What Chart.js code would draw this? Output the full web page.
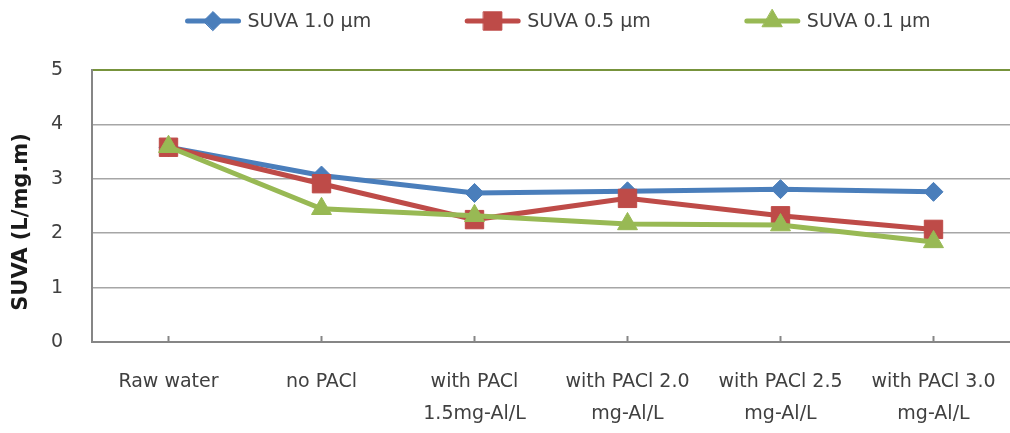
<!DOCTYPE html>
<html>
<head>
<meta charset="utf-8">
<script src="https://cdn.jsdelivr.net/npm/chart.js@4/dist/chart.umd.min.js"></script>
<style>
  html, body { margin: 0; padding: 0; background: #fff; overflow: hidden; }
  #wrap { width: 1010px; height: 433px; position: relative; }
  canvas { display: block; }
</style>
</head>
<body>
<div id="wrap"><canvas id="suvaChart"></canvas></div>
<script>
// Treatment steps along the x axis
const categories = [
  'Raw water',
  'no PACl',
  ['with PACl', '1.5mg-Al/L'],
  ['with PACl 2.0', 'mg-Al/L'],
  ['with PACl 2.5', 'mg-Al/L'],
  ['with PACl 3.0', 'mg-Al/L']
];

// SUVA (L/mg.m) after filtration through each pore size
const suva10 = [3.58, 3.06, 2.74, 2.77, 2.81, 2.76];
const suva05 = [3.58, 2.91, 2.25, 2.64, 2.32, 2.07];
const suva01 = [3.59, 2.45, 2.32, 2.17, 2.15, 1.84];

const yTicks = [0, 1, 2, 3, 4, 5];
const yTitle = 'SUVA (L/mg.m)';

const FONT = '"DejaVu Sans", sans-serif';
const TEXT = '#404040';
const GRID = '#a6a6a6';
const AXIS = '#868686';

const series = [
  { label: 'SUVA 1.0 µm', data: suva10, color: '#4a7ebb', style: 'rectRot', radius: 9.5, order: 2 },
  { label: 'SUVA 0.5 µm', data: suva05, color: '#be4b48', style: 'rect', radius: 13, order: 1 },
  { label: 'SUVA 0.1 µm', data: suva01, color: '#98b954', style: 'triangle', radius: 11.5, order: 0 }
];

// Legend with a short line sample and the marker on top of it
const lineLegend = {
  id: 'lineLegend',
  afterDraw(chart) {
    const ctx = chart.ctx;
    const y = 21;
    const sample = 55, gap = 7, space = 94;
    ctx.save();
    ctx.font = '19px ' + FONT;
    const widths = chart.data.datasets.map(ds => ctx.measureText(ds.label).width);
    const total = widths.reduce((s, w) => s + sample + gap + w, 0) + space * (widths.length - 1);
    let x = 558 - total / 2;
    chart.data.datasets.forEach((ds, i) => {
      ctx.strokeStyle = ds.borderColor;
      ctx.lineWidth = 5;
      ctx.lineCap = 'round';
      ctx.beginPath();
      ctx.moveTo(x + 2, y);
      ctx.lineTo(x + sample - 2, y);
      ctx.stroke();
      ctx.fillStyle = ds.pointBackgroundColor;
      ctx.lineWidth = 1;
      Chart.helpers.drawPoint(ctx, {
        pointStyle: ds.pointStyle, radius: ds.pointRadius, borderWidth: 1, rotation: 0
      }, x + sample / 2, y);
      ctx.fillStyle = TEXT;
      ctx.textBaseline = 'middle';
      ctx.textAlign = 'left';
      ctx.fillText(ds.label, x + sample + gap, y + 1);
      x += sample + gap + widths[i] + space;
    });
    ctx.restore();
  }
};

// Vertical axis title, sitting a little below the middle of the plot
const axisTitle = {
  id: 'axisTitle',
  afterDraw(chart) {
    const ctx = chart.ctx;
    ctx.save();
    ctx.translate(22, 222);
    ctx.rotate(-Math.PI / 2);
    ctx.font = 'bold 21px ' + FONT;
    ctx.fillStyle = '#1a1a1a';
    ctx.textAlign = 'center';
    ctx.textBaseline = 'middle';
    ctx.fillText(yTitle, 0, 0);
    ctx.restore();
  }
};

const ctx = document.getElementById('suvaChart').getContext('2d');
new Chart(ctx, {
  type: 'line',
  data: {
    labels: categories,
    datasets: series.map(s => ({
      label: s.label,
      data: s.data,
      order: s.order,
      borderColor: s.color,
      backgroundColor: s.color,
      borderWidth: 5,
      pointStyle: s.style,
      pointRadius: s.radius,
      pointHoverRadius: s.radius,
      pointBackgroundColor: s.color,
      pointBorderColor: s.color,
      pointBorderWidth: 1,
      tension: 0,
      fill: false
    }))
  },
  options: {
    responsive: true,
    maintainAspectRatio: false,
    animation: false,
    // plot runs a few pixels past the right edge of the canvas
    layout: { autoPadding: false, padding: { top: 70, left: 0, right: -4, bottom: 3 } },
    plugins: {
      legend: { display: false },
      tooltip: { enabled: false }
    },
    scales: {
      x: {
        offset: true,
        afterFit: axis => {
          axis.height = 88;
          axis.paddingLeft = 0;
          axis.paddingRight = 0;
        },
        grid: {
          offset: false,
          drawOnChartArea: false,
          drawTicks: true,
          tickLength: -6,
          tickColor: AXIS,
          tickWidth: 2
        },
        border: { color: AXIS, width: 2 },
        ticks: {
          color: TEXT,
          padding: 30,
          maxRotation: 0,
          autoSkip: false,
          font: { family: FONT, size: 19, lineHeight: 32 / 19 }
        }
      },
      y: {
        min: 0,
        max: 5,
        afterBuildTicks: axis => { axis.ticks = yTicks.map(v => ({ value: v })); },
        afterFit: axis => {
          axis.width = 92;
          axis.paddingTop = 0;
          axis.paddingBottom = 0;
        },
        grid: {
          drawTicks: false,
          color: c => c.tick.value === 5 ? '#77933c' : GRID,
          lineWidth: c => c.tick.value === 5 ? 2 : 1.5
        },
        border: { color: AXIS, width: 2 },
        ticks: {
          color: TEXT,
          padding: 29,
          font: { family: FONT, size: 19 }
        }
      }
    }
  },
  plugins: [lineLegend, axisTitle]
});
</script>
</body>
</html>
